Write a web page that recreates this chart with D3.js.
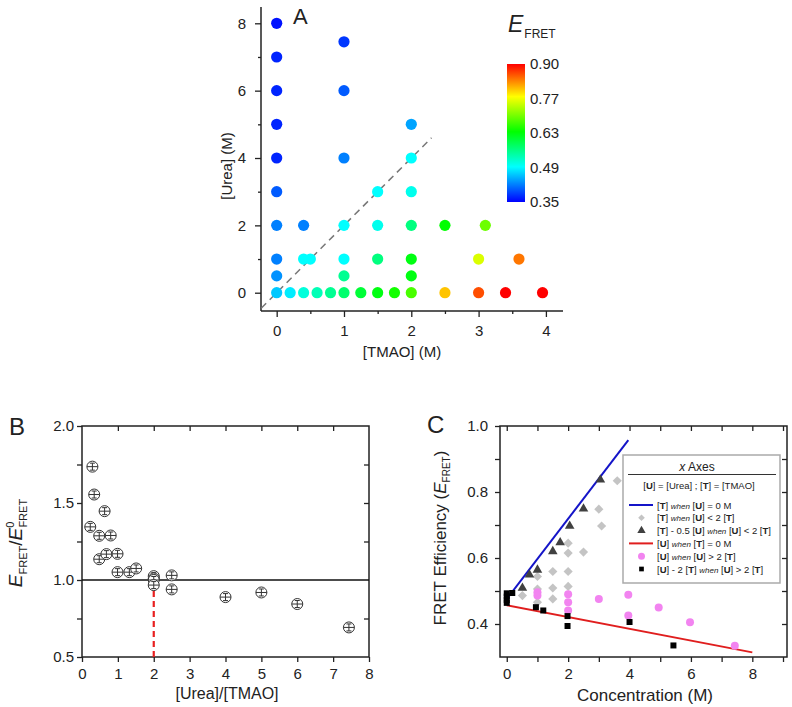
<!DOCTYPE html>
<html lang="en">
<head>
<meta charset="utf-8">
<title>FRET urea / TMAO</title>
<script src="https://d3js.org/d3.v7.min.js"></script>
<style>
  body { margin: 0; background: #fff; }
  svg text { font-family: "Liberation Sans", Arial, sans-serif; fill: #222; }
  .axis line { stroke: #222; stroke-width: 1.3px; }
  .axis text { font-size: 15px; }
  .frame { fill: none; stroke: #222; stroke-width: 1.5px; }
</style>
</head>
<body>
<svg id="fig" width="792" height="707"></svg>
<script>
// ---- panel A: [TMAO], [Urea], E_FRET
var aTmao = [0, 0, 0, 0, 0, 0, 0, 0, 0, 0,
             0.2, 0.4, 0.6, 0.8, 1, 1.25, 1.5, 1.75, 2, 2.5, 3, 3.4, 3.95,
             0.4, 0.4, 0.5,
             1, 1, 1, 1, 1, 1,
             1.5, 1.5, 1.5,
             2, 2, 2, 2, 2, 2,
             2.5, 3.1, 3, 3.6];
var aUrea = [8, 7, 6, 5, 4, 3, 2, 1, 0.5, 0,
             0, 0, 0, 0, 0, 0, 0, 0, 0, 0, 0, 0, 0,
             2, 1, 1,
             7.45, 6, 4, 2, 1, 0.5,
             3, 2, 1,
             5, 4, 3, 2, 1, 0.5,
             2, 2, 1, 1];
var aEfret = [0.36, 0.37, 0.37, 0.37, 0.37, 0.40, 0.42, 0.42, 0.43, 0.46,
              0.48, 0.51, 0.53, 0.55, 0.57, 0.60, 0.62, 0.64, 0.67, 0.80, 0.86, 0.90, 0.90,
              0.42, 0.49, 0.49,
              0.38, 0.40, 0.42, 0.49, 0.49, 0.55,
              0.49, 0.50, 0.56,
              0.44, 0.49, 0.50, 0.56, 0.62, 0.62,
              0.63, 0.69, 0.75, 0.84];
var cbStops = [0.35, 0.49, 0.63, 0.77, 0.90];
var cbColors = ["#0000ff", "#00ffff", "#00ff00", "#ffff00", "#ff0000"];
var cbTicks = [0.35, 0.4875, 0.625, 0.7625, 0.90];
var cbLabels = ["0.35", "0.49", "0.63", "0.77", "0.90"];

// ---- panel B: [Urea]/[TMAO] vs E/E0
var bRatio = [0.29, 0.34, 0.63, 0.23, 0.48, 0.80, 0.48, 0.68, 0.99, 0.99, 1.32, 1.51,
              2, 2, 2, 2, 2.5, 2.5, 4, 5, 6, 7.44];
var bValue = [1.736, 1.555, 1.447, 1.345, 1.287, 1.289, 1.135, 1.168, 1.170, 1.051, 1.051, 1.075,
              1.025, 1.01, 1.0, 0.967, 1.030, 0.939, 0.889, 0.919, 0.844, 0.692];

// ---- panel C: concentration vs E_FRET
var lineT = [[0, 0.476], [3.96, 0.957]];   // [T] when [U] = 0 M
var lineU = [[0, 0.457], [8, 0.314]];      // [U] when [T] = 0 M
var diaX = [0.51, 1, 1, 1, 1.5, 1.5, 1.5, 2, 2, 2, 2, 2.5, 3, 3.09, 3.6];
var diaY = [0.486, 0.544, 0.506, 0.466, 0.559, 0.509, 0.476, 0.645, 0.615, 0.559, 0.514, 0.618, 0.748, 0.697, 0.834];
var triX = [0.51, 0.74, 1.0, 1.5, 1.74, 2.05, 2.5, 3.05];
var triY = [0.509, 0.549, 0.564, 0.620, 0.647, 0.697, 0.749, 0.837];
var pinkX = [1, 1, 2, 2, 2, 3, 3.96, 3.96, 4.95, 5.97, 7.43];
var pinkY = [0.496, 0.486, 0.490, 0.466, 0.441, 0.476, 0.489, 0.426, 0.450, 0.405, 0.334];
var sqX = [0, 0, 0, 0, 0.18, 0.95, 1.19, 1.98, 1.98, 4, 5.43];
var sqY = [0.493, 0.483, 0.473, 0.464, 0.494, 0.451, 0.441, 0.424, 0.394, 0.406, 0.335];
var legendRows = [
  {kind: "line", color: "#1414c8", text: "[*T*] _when_ [*U*] = 0 M"},
  {kind: "diamond", color: "#c4c4c4", text: "[*T*] _when_ [*U*] < 2 [*T*]"},
  {kind: "triangle", color: "#404040", text: "[*T*] - 0.5 [*U*] _when_ [*U*] < 2 [*T*]"},
  {kind: "line", color: "#e01e1e", text: "[*U*] _when_ [*T*] = 0 M"},
  {kind: "circle", color: "#f284f0", text: "[*U*] _when_ [*U*] > 2 [*T*]"},
  {kind: "square", color: "#000000", text: "[*U*] - 2 [*T*] _when_ [*U*] > 2 [*T*]"}
];

var svg = d3.select("#fig");

// ticks only (domain path removed), lines/frames drawn separately
function tickAxis(gen, scale, tx, ty, values, size, pad, labels) {
  var a = gen(scale).tickValues(values).tickSizeInner(size).tickSizeOuter(0).tickPadding(pad);
  a.tickFormat(labels ? function(d, i) { return labels[i]; } : "");
  var g = svg.append("g").attr("class", "axis")
    .attr("transform", "translate(" + tx + "," + ty + ")").call(a);
  g.select(".domain").remove();
  return g;
}

// ================= A =================
var xA = d3.scaleLinear().domain([-0.233, 4.254]).range([261, 563]);
var yA = d3.scaleLinear().domain([-0.543, 8.484]).range([311, 7]);
var color = d3.scaleLinear().domain(cbStops).range(cbColors).clamp(true);

svg.append("line").attr("x1", 261).attr("x2", 261).attr("y1", yA.range()[0]).attr("y2", yA.range()[1])
  .attr("stroke", "#222").attr("stroke-width", 1.5);
svg.append("line").attr("x1", xA.range()[0]).attr("x2", xA.range()[1]).attr("y1", 311).attr("y2", 311)
  .attr("stroke", "#222").attr("stroke-width", 1.5);
tickAxis(d3.axisLeft, yA, 261, 0, [0, 2, 4, 6, 8], 6, 9, ["0", "2", "4", "6", "8"]);
tickAxis(d3.axisLeft, yA, 261, 0, [1, 3, 5, 7], 3, 0, null);
tickAxis(d3.axisBottom, xA, 0, 311, [0, 1, 2, 3, 4], 6, 8, ["0", "1", "2", "3", "4"]);
tickAxis(d3.axisBottom, xA, 0, 311, [0.5, 1.5, 2.5, 3.5], 3, 0, null);

// dashed [U] = 2 [T] line
svg.append("line")
  .attr("x1", xA(-0.23)).attr("y1", yA(-0.46)).attr("x2", xA(2.3)).attr("y2", yA(4.6))
  .attr("stroke", "#777").attr("stroke-width", 1.5).attr("stroke-dasharray", "7,5");

svg.append("g").selectAll("circle")
  .data(aTmao.map(function(t, i) { return {t: t, u: aUrea[i], e: aEfret[i]}; }))
  .enter().append("circle")
  .attr("cx", function(d) { return xA(d.t); })
  .attr("cy", function(d) { return yA(d.u); })
  .attr("r", 5.6)
  .attr("fill", function(d) { return color(d.e); });

svg.append("text").attr("x", 402).attr("y", 357).attr("text-anchor", "middle")
  .style("font-size", "15px").text("[TMAO] (M)");
svg.append("text").attr("transform", "translate(232,166) rotate(-90)").attr("text-anchor", "middle")
  .style("font-size", "15px").text("[Urea] (M)");
svg.append("text").attr("x", 293).attr("y", 24).style("font-size", "22px").text("A");

// colour bar
var yCb = d3.scaleLinear().domain([0.35, 0.90]).range([202, 64]);
var grad = svg.append("defs").append("linearGradient").attr("id", "cb")
  .attr("x1", 0).attr("y1", 1).attr("x2", 0).attr("y2", 0);
cbStops.forEach(function(s, i) {
  grad.append("stop").attr("offset", (s - 0.35) / 0.55).attr("stop-color", cbColors[i]);
});
svg.append("rect").attr("x", 507).attr("y", yCb(0.90)).attr("width", 18)
  .attr("height", yCb(0.35) - yCb(0.90)).attr("fill", "url(#cb)");
svg.append("g").selectAll("text").data(cbTicks).enter().append("text")
  .attr("x", 530).attr("y", function(d) { return yCb(d); }).attr("dy", "0.36em")
  .style("font-size", "15px").text(function(d, i) { return cbLabels[i]; });
var eTitle = svg.append("text").attr("x", 508).attr("y", 32);
eTitle.append("tspan").style("font-size", "23px").style("font-style", "italic").text("E");
eTitle.append("tspan").attr("dy", 6).attr("dx", 1).style("font-size", "12px").text("FRET");

// ================= B =================
var xB = d3.scaleLinear().domain([0, 8]).range([82, 369]);
var yB = d3.scaleLinear().domain([0.5, 2.0]).range([657, 426]);
svg.append("rect").attr("class", "frame").attr("x", 82).attr("y", 426).attr("width", 287).attr("height", 231);
tickAxis(d3.axisLeft, yB, 82, 0, [0.5, 1.0, 1.5, 2.0], 5, 3, ["0.5", "1.0", "1.5", "2.0"]);
tickAxis(d3.axisLeft, yB, 82, 0, [0.75, 1.25, 1.75], 5, 0, null);
tickAxis(d3.axisRight, yB, 369, 0, [0.75, 1.25, 1.5, 1.75], -5, 0, null);
tickAxis(d3.axisBottom, xB, 0, 657, d3.range(0, 9), 5, 6, d3.range(0, 9).map(String));
tickAxis(d3.axisTop, xB, 0, 426, d3.range(1, 8), -5, 0, null);

svg.append("line").attr("x1", xB(0)).attr("x2", xB(8)).attr("y1", yB(1)).attr("y2", yB(1))
  .attr("stroke", "#111").attr("stroke-width", 1.5);
svg.append("line").attr("x1", xB(2)).attr("x2", xB(2)).attr("y1", yB(0.5)).attr("y2", yB(1))
  .attr("stroke", "#e82020").attr("stroke-width", 2.2).attr("stroke-dasharray", "6,4");

var bPts = svg.append("g").selectAll("g")
  .data(bRatio.map(function(r, i) { return [xB(r), yB(bValue[i])]; }))
  .enter().append("g")
  .attr("transform", function(d) { return "translate(" + d[0] + "," + d[1] + ")"; })
  .attr("stroke", "#333").attr("stroke-width", 1).attr("fill", "none");
bPts.append("circle").attr("r", 5.5).attr("fill", "#fff");
bPts.append("line").attr("x1", -5.5).attr("x2", 5.5);
bPts.append("line").attr("y1", -3.5).attr("y2", 3.5);
bPts.append("line").attr("x1", -2.5).attr("x2", 2.5).attr("y1", -3.5).attr("y2", -3.5);
bPts.append("line").attr("x1", -2.5).attr("x2", 2.5).attr("y1", 3.5).attr("y2", 3.5);

svg.append("text").attr("x", 227).attr("y", 699).attr("text-anchor", "middle")
  .style("font-size", "16px").text("[Urea]/[TMAO]");
var bLab = svg.append("text").attr("transform", "translate(22,543) rotate(-90)").attr("text-anchor", "middle");
bLab.append("tspan").style("font-size", "19px").style("font-style", "italic").text("E");
bLab.append("tspan").attr("dy", 5).style("font-size", "11px").text("FRET");
bLab.append("tspan").attr("dy", -5).style("font-size", "19px").text("/");
bLab.append("tspan").style("font-size", "19px").style("font-style", "italic").text("E");
bLab.append("tspan").attr("dy", -8).style("font-size", "11px").text("0");
bLab.append("tspan").attr("dy", 13).attr("dx", -6).style("font-size", "11px").text("FRET");
svg.append("text").attr("x", 9).attr("y", 435).style("font-size", "24px").text("B");

// ================= C =================
var xC = d3.scaleLinear().domain([-0.22, 9.13]).range([500, 787]);
var yC = d3.scaleLinear().domain([0.3, 1.0]).range([657, 426]);
svg.append("rect").attr("class", "frame").attr("x", 500).attr("y", 426).attr("width", 287).attr("height", 231);
tickAxis(d3.axisLeft, yC, 500, 0, [0.4, 0.6, 0.8, 1.0], 5, 7, ["0.4", "0.6", "0.8", "1.0"]);
tickAxis(d3.axisLeft, yC, 500, 0, [0.5, 0.7, 0.9], 5, 0, null);
tickAxis(d3.axisRight, yC, 787, 0, [0.4, 0.5, 0.6, 0.7, 0.8, 0.9], -5, 0, null);
tickAxis(d3.axisBottom, xC, 0, 657, [0, 2, 4, 6, 8], 5, 6, ["0", "2", "4", "6", "8"]);
tickAxis(d3.axisBottom, xC, 0, 657, [1, 3, 5, 7, 9], 5, 0, null);
tickAxis(d3.axisTop, xC, 0, 426, d3.range(0, 10), -5, 0, null);

var line = d3.line().x(function(d) { return xC(d[0]); }).y(function(d) { return yC(d[1]); });
svg.append("path").attr("d", line(lineU)).attr("stroke", "#e01e1e").attr("stroke-width", 2).attr("fill", "none");
svg.append("path").attr("d", line(lineT)).attr("stroke", "#1414c8").attr("stroke-width", 2).attr("fill", "none");

var sym = {
  diamond: d3.symbol().type(d3.symbolSquare).size(42),
  triangle: d3.symbol().type(d3.symbolTriangle).size(40),
  square: d3.symbol().type(d3.symbolSquare).size(36)
};
svg.append("g").selectAll("path").data(diaX).enter().append("path")
  .attr("d", sym.diamond()).attr("fill", "#c4c4c4")
  .attr("transform", function(d, i) { return "translate(" + xC(d) + "," + yC(diaY[i]) + ") rotate(45)"; });
svg.append("g").selectAll("circle").data(pinkX).enter().append("circle")
  .attr("cx", function(d) { return xC(d); }).attr("cy", function(d, i) { return yC(pinkY[i]); })
  .attr("r", 4).attr("fill", "#f284f0");
svg.append("g").selectAll("path").data(triX).enter().append("path")
  .attr("d", sym.triangle()).attr("fill", "#404040")
  .attr("transform", function(d, i) { return "translate(" + xC(d) + "," + yC(triY[i]) + ")"; });
svg.append("g").selectAll("path").data(sqX).enter().append("path")
  .attr("d", sym.square()).attr("fill", "#000")
  .attr("transform", function(d, i) { return "translate(" + xC(d) + "," + yC(sqY[i]) + ")"; });

// legend
var lg = svg.append("g");
lg.append("rect").attr("x", 623).attr("y", 455).attr("width", 157).attr("height", 128)
  .attr("fill", "#fff").attr("stroke", "#aaa").attr("stroke-width", 1.5);
var lt = lg.append("text").attr("x", 697).attr("y", 471).attr("text-anchor", "middle").style("font-size", "12px");
lt.append("tspan").style("font-style", "italic").text("x");
lt.append("tspan").text(" Axes");
lg.append("line").attr("x1", 628).attr("x2", 776).attr("y1", 474.5).attr("y2", 474.5)
  .attr("stroke", "#333").attr("stroke-width", 1);

function richText(sel, s) {
  s.split(/(\*[^*]+\*|_[^_]+_)/).forEach(function(part) {
    if (!part) return;
    var t = sel.append("tspan");
    if (part[0] === "*") t.style("font-weight", "bold").text(part.slice(1, -1));
    else if (part[0] === "_") t.style("font-style", "italic").style("font-size", "8px").text(part.slice(1, -1));
    else t.text(part);
  });
}
richText(lg.append("text").attr("x", 699).attr("y", 488.5).attr("text-anchor", "middle")
  .style("font-size", "9.5px"), "[*U*] = [Urea] ; [*T*] = [TMAO]");

var rowY = d3.scaleLinear().domain([0, 5]).range([505, 569]);
legendRows.forEach(function(r, i) {
  var y = rowY(i);
  if (r.kind === "line") {
    lg.append("line").attr("x1", 629).attr("x2", 653).attr("y1", y).attr("y2", y)
      .attr("stroke", r.color).attr("stroke-width", 2);
  } else if (r.kind === "circle") {
    lg.append("circle").attr("cx", 641.5).attr("cy", y).attr("r", 3.5).attr("fill", r.color);
  } else {
    var g = d3.symbol().type(r.kind === "triangle" ? d3.symbolTriangle : d3.symbolSquare)
      .size(r.kind === "triangle" ? 30 : 22);
    lg.append("path").attr("d", g()).attr("fill", r.color)
      .attr("transform", "translate(641.5," + y + ")" + (r.kind === "diamond" ? " rotate(45)" : ""));
  }
  richText(lg.append("text").attr("x", 657).attr("y", y + 3.5).style("font-size", "9.5px"), r.text);
});

svg.append("text").attr("x", 645).attr("y", 701).attr("text-anchor", "middle")
  .style("font-size", "17px").text("Concentration (M)");
var cLab = svg.append("text").attr("transform", "translate(446,538) rotate(-90)").attr("text-anchor", "middle")
  .style("font-size", "17px");
cLab.append("tspan").text("FRET Efficiency (");
cLab.append("tspan").style("font-style", "italic").text("E");
cLab.append("tspan").attr("dy", 4).style("font-size", "10px").text("FRET");
cLab.append("tspan").attr("dy", -4).text(")");
svg.append("text").attr("x", 427).attr("y", 433).style("font-size", "24px").text("C");
</script>
</body>
</html>
